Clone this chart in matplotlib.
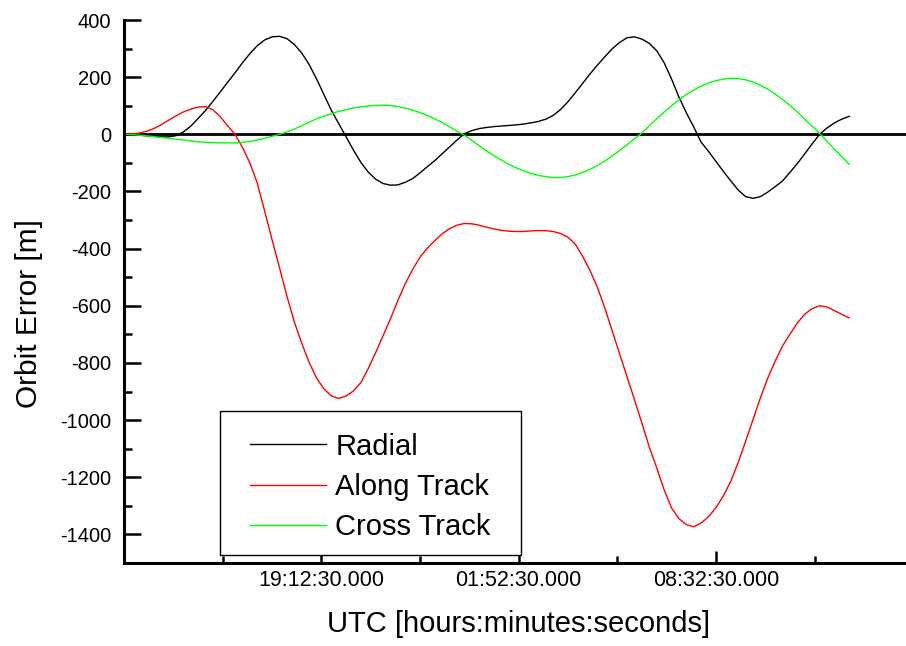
import numpy as np
import matplotlib
matplotlib.use('Agg')
import matplotlib.pyplot as plt
from matplotlib.patches import Rectangle

plt.rcParams['font.family'] = ['Liberation Sans', 'DejaVu Sans']
plt.rcParams['axes.unicode_minus'] = False

# elapsed time in hours since 12:32:30 UTC, one sample every quarter hour
hours = np.arange(0, 24.51, 0.25)

radial = [0, -1, -3, -5, -7, -9, -9, -5,
          8, 28, 55, 83, 115, 148, 182, 215,
          250, 282, 310, 330, 341, 343, 335, 315,
          285, 245, 195, 140, 85, 38, -8, -55,
          -98, -132, -157, -172, -178, -177, -168, -155,
          -135, -113, -92, -68, -44, -20, 2, 13,
          20, 24, 27, 29, 31, 33, 36, 40,
          45, 53, 66, 87, 114, 146, 179, 212,
          243, 272, 300, 322, 338, 341, 333, 318,
          292, 250, 193, 130, 75, 25, -28, -60,
          -95, -130, -163, -195, -218, -224, -218, -202,
          -183, -163, -133, -102, -68, -33, 0, 22,
          40, 53, 63]

along_track = [0, 1, 4, 10, 20, 33, 49, 64,
               78, 88, 95, 97, 86, 62, 30, 0,
               -45, -100, -170, -268, -368, -465, -565, -655,
               -730, -797, -852, -890, -915, -924, -916, -898,
               -869, -820, -764, -705, -646, -582, -523, -473,
               -430, -398, -372, -348, -330, -318, -312, -313,
               -318, -325, -331, -336, -339, -340, -340, -338,
               -337, -337, -340, -347, -360, -385, -428, -478,
               -537, -610, -690, -770, -850, -930, -1012, -1095,
               -1168, -1245, -1308, -1345, -1366, -1373, -1360, -1338,
               -1306, -1265, -1214, -1148, -1074, -998, -922, -853,
               -793, -740, -699, -660, -629, -610, -600, -604,
               -617, -630, -642]

cross_track = [0, -1, -3, -5, -8, -11, -14, -17,
               -20, -23, -26, -28, -29, -30, -30, -30,
               -28, -25, -20, -14, -7, 0, 8, 18,
               30, 42, 54, 63, 72, 80, 86, 92,
               96, 99, 101, 102, 101, 97, 92, 85,
               76, 66, 54, 41, 26, 11, -3, -21,
               -40, -58, -75, -90, -105, -117, -128, -137,
               -144, -148, -151, -151, -148, -142, -133, -122,
               -109, -93, -75, -56, -36, -15, 5, 30,
               55, 78, 100, 121, 139, 155, 169, 180,
               188, 193, 196, 195, 191, 183, 172, 158,
               141, 122, 101, 78, 53, 28, 3, -24,
               -52, -78, -105]

major_ticks = [20 / 3, 40 / 3, 20]
minor_ticks = [10 / 3, 10, 50 / 3, 70 / 3]
tick_labels = ['19:12:30.000', '01:52:30.000', '08:32:30.000']

fig = plt.figure(figsize=(9.06, 6.46), dpi=100)
ax = fig.add_axes([124 / 906, 83 / 646, 782 / 906, 543 / 646])

ax.axhline(0, color='black', lw=2.0, zorder=1)
ax.plot(hours, radial, color='black', lw=1.0, label='Radial')
ax.plot(hours, along_track, color='#ff0000', lw=1.0, label='Along Track')
ax.plot(hours, cross_track, color='#00ff00', lw=1.0, label='Cross Track')

ax.set_xlim(0, 782 / 29.6)
ax.set_ylim(-1500, 400)

ax.set_xticks(major_ticks)
ax.set_xticklabels(tick_labels)
ax.set_xticks(minor_ticks, minor=True)
ax.set_yticks(np.arange(-1400, 401, 200))
ax.set_yticks(np.arange(-1500, 401, 100), minor=True)

ax.tick_params(axis='both', which='both', direction='in', width=1.8, color='black')
ax.tick_params(axis='x', which='major', length=9, pad=5, labelsize=15.5)
ax.tick_params(axis='x', which='minor', length=5)
ax.tick_params(axis='y', which='major', length=12, pad=9, labelsize=14.5)
ax.tick_params(axis='y', which='minor', length=6)

for side in ['top', 'right']:
    ax.spines[side].set_visible(False)
for side in ['left', 'bottom']:
    ax.spines[side].set_linewidth(2.2)

ax.set_xlabel('UTC [hours:minutes:seconds]', fontsize=21)
ax.set_ylabel('Orbit Error [m]', fontsize=21.5)
ax.xaxis.set_label_coords(0.505, -0.086)
ax.yaxis.set_label_coords(-0.104, 0.46)

# legend box drawn separately so the padding can be set freely
ax.add_patch(Rectangle((0.1228, 0.0147), 0.3849, 0.2652, transform=ax.transAxes,
                       facecolor='white', edgecolor='black', lw=1.0, zorder=4))
ax.legend(loc='upper left', bbox_to_anchor=(0.1611, 0.24),
          fontsize=21, frameon=False,
          handlelength=2.6, handletextpad=0.32, labelspacing=0.42,
          borderaxespad=0, borderpad=0).set_zorder(5)

fig.savefig('out.png', dpi=100)
